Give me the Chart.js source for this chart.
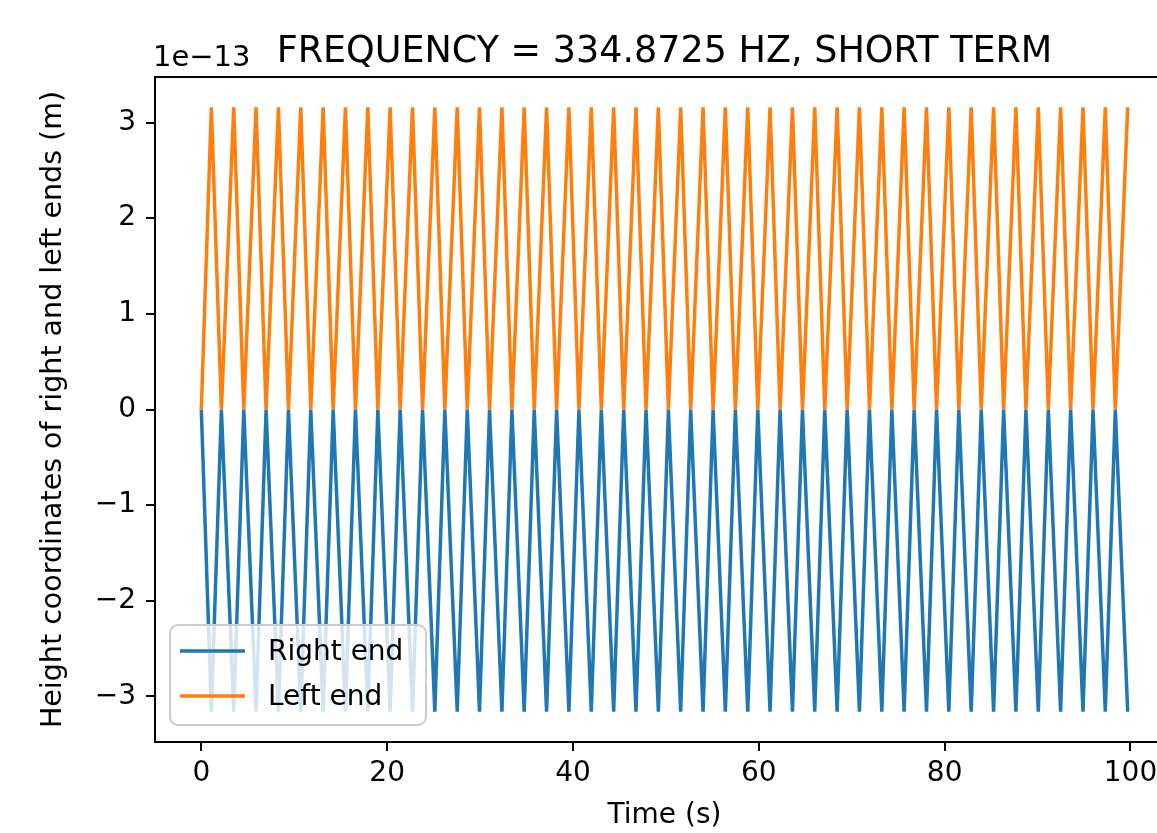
<!DOCTYPE html>
<html>
<head>
<meta charset="utf-8">
<title>Frequency chart</title>
<script src="https://cdn.jsdelivr.net/npm/chart.js@4.4.1/dist/chart.umd.min.js"></script>
<style>
  html, body { margin: 0; padding: 0; background: #fff; overflow: hidden; }
  #chart { display: block; }
</style>
</head>
<body>
<canvas id="chart" width="1190" height="833"></canvas>
<script>
// time (s) of every plotted sample
const times = [
  0, 1.08, 2.16, 3.49, 4.57, 5.89, 6.97, 8.30, 9.38, 10.70, 11.78, 13.11,
  14.19, 15.51, 16.59, 17.92, 19.00, 20.32, 21.40, 22.73, 23.81, 25.13, 26.21, 27.54,
  28.62, 29.94, 31.02, 32.35, 33.43, 34.75, 35.83, 37.16, 38.24, 39.56, 40.64, 41.97,
  43.05, 44.38, 45.46, 46.78, 47.86, 49.19, 50.27, 51.59, 52.67, 54.00, 55.08, 56.40,
  57.48, 58.81, 59.89, 61.21, 62.29, 63.62, 64.70, 66.02, 67.10, 68.43, 69.51, 70.83,
  71.91, 73.24, 74.32, 75.64, 76.72, 78.05, 79.13, 80.45, 81.53, 82.86, 83.94, 85.27,
  86.35, 87.67, 88.75, 90.08, 91.16, 92.48, 93.56, 94.89, 95.97, 97.29, 98.37, 99.70
];

// heights in units of 1e-13 m
const rightEnd = [
  0, -3.16, 0, -3.16, 0, -3.16, 0, -3.16, 0, -3.16, 0, -3.16,
  0, -3.16, 0, -3.16, 0, -3.16, 0, -3.16, 0, -3.16, 0, -3.16,
  0, -3.16, 0, -3.16, 0, -3.16, 0, -3.16, 0, -3.16, 0, -3.16,
  0, -3.16, 0, -3.16, 0, -3.16, 0, -3.16, 0, -3.16, 0, -3.16,
  0, -3.16, 0, -3.16, 0, -3.16, 0, -3.16, 0, -3.16, 0, -3.16,
  0, -3.16, 0, -3.16, 0, -3.16, 0, -3.16, 0, -3.16, 0, -3.16,
  0, -3.16, 0, -3.16, 0, -3.16, 0, -3.16, 0, -3.16, 0, -3.16
];
const leftEnd = [
  0, 3.16, 0, 3.16, 0, 3.16, 0, 3.16, 0, 3.16, 0, 3.16,
  0, 3.16, 0, 3.16, 0, 3.16, 0, 3.16, 0, 3.16, 0, 3.16,
  0, 3.16, 0, 3.16, 0, 3.16, 0, 3.16, 0, 3.16, 0, 3.16,
  0, 3.16, 0, 3.16, 0, 3.16, 0, 3.16, 0, 3.16, 0, 3.16,
  0, 3.16, 0, 3.16, 0, 3.16, 0, 3.16, 0, 3.16, 0, 3.16,
  0, 3.16, 0, 3.16, 0, 3.16, 0, 3.16, 0, 3.16, 0, 3.16,
  0, 3.16, 0, 3.16, 0, 3.16, 0, 3.16, 0, 3.16, 0, 3.16
];

const xTicks = [0, 20, 40, 60, 80, 100];
const yTicks = [-3, -2, -1, 0, 1, 2, 3];
const offsetLabel = '1e\u221213';
const titleText = 'FREQUENCY = 334.8725 HZ, SHORT TERM';

const FONT = 'DejaVu Sans';
const BLUE = '#1f77b4';
const ORANGE = '#ff7f0e';

function toPoints(ys) {
    return times.map((t, i) => ({ x: t, y: ys[i] }));
}

function fmt(v) {
    return String(v).replace('-', '\u2212');
}

// title, offset text, top spine and the matplotlib-style legend
const extras = {
    id: 'extras',
    afterDatasetsDraw(chart) {
        const ctx = chart.ctx;
        const a = chart.chartArea;
        ctx.save();

        ctx.strokeStyle = '#000';
        ctx.lineWidth = 2;
        ctx.beginPath();
        ctx.moveTo(a.left, a.top);
        ctx.lineTo(a.right, a.top);
        ctx.stroke();

        ctx.fillStyle = '#000';
        ctx.textBaseline = 'alphabetic';
        ctx.font = '36.5px "' + FONT + '"';
        ctx.textAlign = 'center';
        ctx.fillText(titleText, (a.left + a.right) / 2, 62);

        ctx.font = '29px "' + FONT + '"';
        ctx.textAlign = 'left';
        ctx.fillText(offsetLabel, a.left - 2, 66);

        // legend
        const bx = 170, by = 625, bw = 256, bh = 100, r = 8;
        ctx.beginPath();
        ctx.roundRect(bx, by, bw, bh, r);
        ctx.fillStyle = 'rgba(255,255,255,0.8)';
        ctx.fill();
        ctx.strokeStyle = '#cccccc';
        ctx.lineWidth = 2;
        ctx.stroke();

        const rows = [651, 696];
        chart.data.datasets.forEach((ds, i) => {
            ctx.strokeStyle = ds.borderColor;
            ctx.lineWidth = 3.5;
            ctx.beginPath();
            ctx.moveTo(180, rows[i]);
            ctx.lineTo(245, rows[i]);
            ctx.stroke();
            ctx.fillStyle = '#000';
            ctx.font = '28px "' + FONT + '"';
            ctx.textBaseline = 'middle';
            ctx.fillText(ds.label, 268, rows[i] + 2);
        });
        ctx.restore();
    }
};

new Chart(document.getElementById('chart'), {
    type: 'line',
    data: {
        datasets: [{
            label: 'Right end',
            data: toPoints(rightEnd),
            borderColor: BLUE,
            borderWidth: 3.5,
            pointRadius: 0,
            tension: 0,
            order: 1
        }, {
            label: 'Left end',
            data: toPoints(leftEnd),
            borderColor: ORANGE,
            borderWidth: 3.5,
            pointRadius: 0,
            tension: 0,
            order: 0
        }]
    },
    options: {
        responsive: false,
        devicePixelRatio: 1,
        animation: false,
        layout: { padding: { top: 77, right: 16, left: 0, bottom: 0 } },
        plugins: {
            legend: { display: false },
            title: { display: false },
            tooltip: { enabled: false }
        },
        scales: {
            x: {
                type: 'linear',
                min: -4.985,
                max: 104.685,
                afterFit: s => { s.height = 91; },
                afterBuildTicks: s => { s.ticks = xTicks.map(v => ({ value: v })); },
                grid: { drawOnChartArea: false, drawTicks: true, tickLength: 9, color: '#000', lineWidth: 2 },
                border: { color: '#000', width: 2 },
                ticks: {
                    color: '#000',
                    padding: 6,
                    maxRotation: 0,
                    font: { family: FONT, size: 28 },
                    callback: v => fmt(v)
                },
                title: {
                    display: true,
                    text: 'Time (s)',
                    color: '#000',
                    padding: { top: 0, bottom: 0 },
                    font: { family: FONT, size: 28 }
                }
            },
            y: {
                type: 'linear',
                min: -3.476,
                max: 3.476,
                afterFit: s => { s.width = 155; },
                afterBuildTicks: s => { s.ticks = yTicks.map(v => ({ value: v })); },
                grid: { drawOnChartArea: false, drawTicks: true, tickLength: 9, color: '#000', lineWidth: 2 },
                border: { color: '#000', width: 2 },
                ticks: {
                    color: '#000',
                    padding: 10,
                    font: { family: FONT, size: 28 },
                    callback: v => fmt(v)
                },
                title: {
                    display: true,
                    text: 'Height coordinates of right and left ends (m)',
                    color: '#000',
                    padding: { top: 36, bottom: 0 },
                    font: { family: FONT, size: 28.5 }
                }
            }
        }
    },
    plugins: [extras]
});
</script>
</body>
</html>
